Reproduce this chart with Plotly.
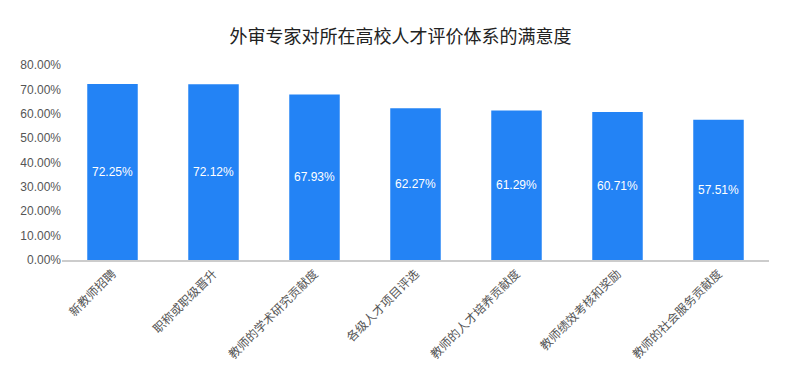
import plotly.graph_objects as go

categories = ["新教师招聘", "职称或职级晋升", "教师的学术研究贡献度", "各级人才项目评选",
              "教师的人才培养贡献度", "教师绩效考核和奖励", "教师的社会服务贡献度"]
values = [0.7225, 0.7212, 0.6793, 0.6227, 0.6129, 0.6071, 0.5751]
y_ticks = [0, 0.1, 0.2, 0.3, 0.4, 0.5, 0.6, 0.7, 0.8]

font_family = "Noto Sans CJK SC, Liberation Sans, Arial, sans-serif"

# The page body has an 8px margin, so the figure is sized/offset to compensate.
W, H = 785, 375

fig = go.Figure(go.Bar(
    x=categories,
    y=values,
    marker=dict(color="#2383F5", line=dict(width=0)),
    text=[f"{v*100:.2f}%" for v in values],
    textposition="inside",
    insidetextanchor="middle",
    textfont=dict(color="white", size=12, family="Liberation Sans, Arial, sans-serif"),
    textangle=0,
    hoverinfo="skip",
))

fig.update_layout(
    width=W, height=H,
    margin=dict(l=54, r=24, t=57, b=123),
    paper_bgcolor="white", plot_bgcolor="white",
    title=dict(text="外审专家对所在高校人才评价体系的满意度", x=0.5, xanchor="center",
               y=1 - 29 / H, yanchor="middle",
               font=dict(size=18, color="#222", family=font_family)),
    bargap=0.5,
    showlegend=False,
    font=dict(family=font_family, color="#555"),
)
fig.update_xaxes(
    tickangle=-45,
    tickfont=dict(size=12, color="#555", family=font_family),
    showline=True, linecolor="#cccccc", linewidth=2,
    ticks="", showgrid=False, automargin=False,
)
fig.update_yaxes(
    range=[0, 0.8],
    tickvals=y_ticks,
    tickformat=".2%",
    tickfont=dict(size=12, color="#555", family="Liberation Sans, Arial, sans-serif"),
    showgrid=False, zeroline=False, showline=False, ticks="", automargin=False,
)

fig.write_html("out.html")
